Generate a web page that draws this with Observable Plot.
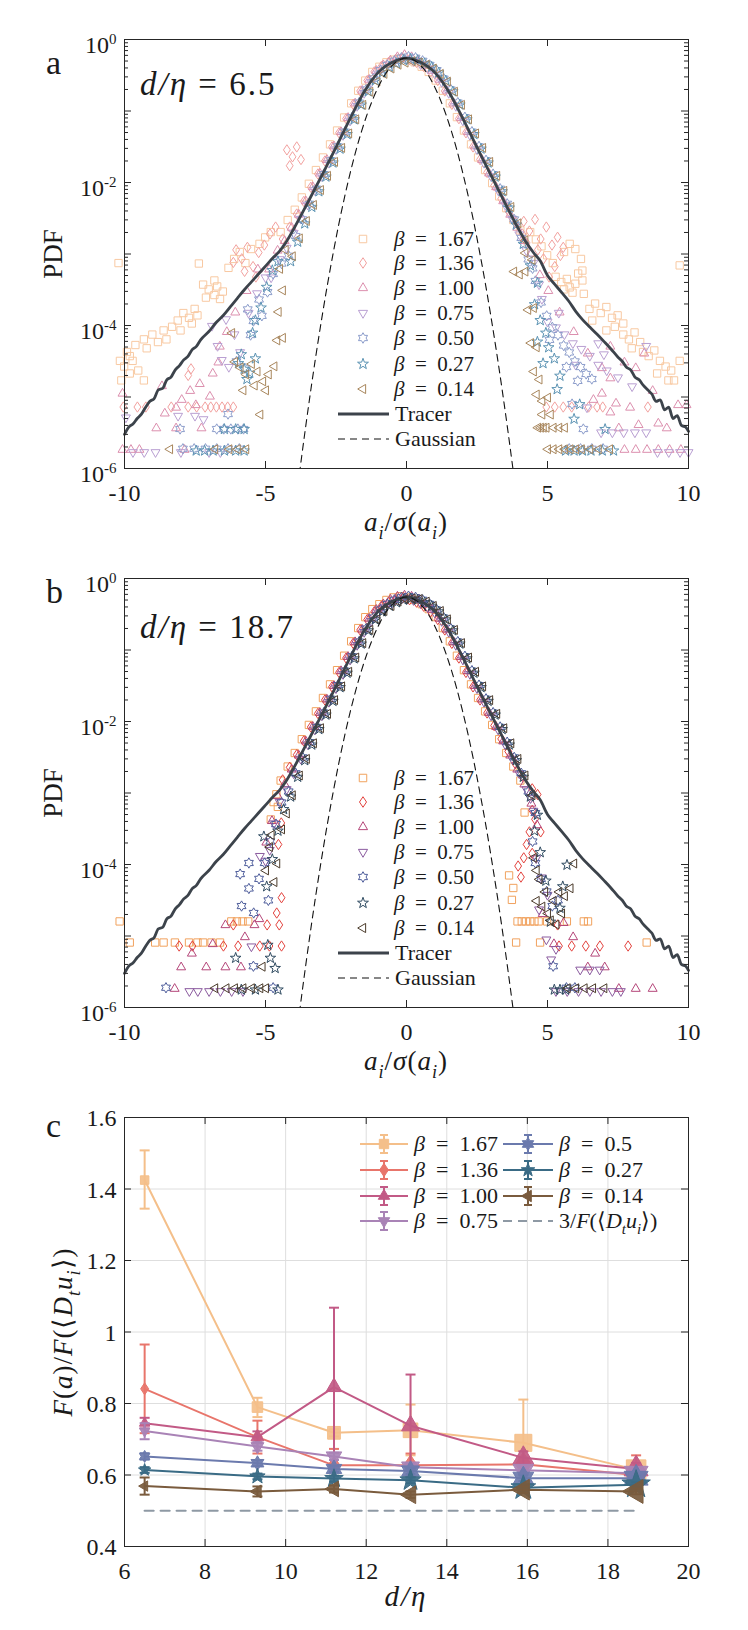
<!DOCTYPE html>
<html><head><meta charset="utf-8">
<script src="https://cdn.jsdelivr.net/npm/d3@7"></script>
<script src="https://cdn.jsdelivr.net/npm/@observablehq/plot@0.6"></script>
<style>
html,body{margin:0;padding:0;background:#fff;}
#fig{position:relative;width:748px;height:1630px;overflow:hidden;font-family:"Liberation Serif","Times New Roman",Times,serif;}
.pane{position:absolute;left:0;}
#fig svg text{font-family:"Liberation Serif","Times New Roman",Times,serif;}
</style></head><body><div id="fig"></div>
<script>
// ---------------- DATA ----------------
const betaLabels = ["1.67","1.36","1.00","0.75","0.50","0.27","0.14"];
const xTicksPDF = [-10,-5,0,5,10];
const yLabelDecades = [1,1e-2,1e-4,1e-6];

// tracer PDF (same curve in both panels)
const tracerX = [-10,-9.85,-9.7,-9.55,-9.4,-9.25,-9.1,-8.95,-8.8,-8.65,-8.5,-8.35,-8.2,-8.05,-7.9,-7.75,-7.6,-7.45,-7.3,-7,-6.75,-6.5,-6.25,-6,-5.75,-5.5,-5.25,-5,-4.75,-4.5,-4.25,-4,-3.5,-3,-2.5,-2,-1.5,-1,-0.5,0,0.5,1,1.5,2,2.5,3,3.5,4,4.25,4.5,4.75,5,5.25,5.5,5.75,6,6.25,6.5,6.75,7,7.25,7.5,7.65,7.8,7.95,8.1,8.25,8.4,8.55,8.7,8.85,9,9.15,9.3,9.45,9.6,9.75,9.9,10];
const tracerY = [3.0e-6,3.8e-6,4.2e-6,5.0e-6,5.75e-6,7.2e-6,8.7e-6,9.5e-6,1.26e-5,1.32e-5,1.74e-5,1.9e-5,2.4e-5,2.75e-5,3.3e-5,3.7e-5,4.6e-5,5.1e-5,6.3e-5,8.3e-5,1.1e-4,1.38e-4,1.82e-4,2.4e-4,3.16e-4,4.07e-4,5.25e-4,6.76e-4,8.7e-4,1.1e-3,1.51e-3,2.24e-3,5.25e-3,1.26e-2,3.1e-2,7.8e-2,0.186,0.347,0.479,0.55,0.479,0.347,0.186,7.8e-2,3.1e-2,1.26e-2,5.1e-3,2.14e-3,1.45e-3,1.05e-3,7.9e-4,5.0e-4,3.8e-4,2.9e-4,2.2e-4,1.58e-4,1.2e-4,9.5e-5,7.6e-5,6.0e-5,4.7e-5,3.6e-5,3.16e-5,2.6e-5,2.4e-5,1.9e-5,1.74e-5,1.45e-5,1.26e-5,1.1e-5,8.7e-6,9.1e-6,6.6e-6,7.2e-6,5.0e-6,5.5e-6,4.0e-6,3.8e-6,3.3e-6];

// Gaussian reference curve
const gaussX = [-3.8,-3.6,-3.4,-3.2,-3,-2.8,-2.6,-2.4,-2.2,-2,-1.8,-1.6,-1.4,-1.2,-1,-0.8,-0.6,-0.4,-0.2,0,0.2,0.4,0.6,0.8,1,1.2,1.4,1.6,1.8,2,2.2,2.4,2.6,2.8,3,3.2,3.4,3.6,3.8];
const gaussY = [8.3e-7,3.27e-6,1.2e-5,4.09e-5,1.29e-4,3.8e-4,1.03e-3,2.62e-3,6.15e-3,1.34e-2,2.72e-2,5.1e-2,8.91e-2,0.144,0.217,0.304,0.394,0.474,0.53,0.55,0.53,0.474,0.394,0.304,0.217,0.144,8.91e-2,5.1e-2,2.72e-2,1.34e-2,6.15e-3,2.62e-3,1.03e-3,3.8e-4,1.29e-4,4.09e-5,1.2e-5,3.27e-6,8.3e-7];

// bins of the central part of the particle PDFs
const coreX = [-4.25,-4,-3.75,-3.5,-3.25,-3,-2.75,-2.5,-2.25,-2,-1.75,-1.5,-1.25,-1,-0.75,-0.5,-0.25,0,0.25,0.5,0.75,1,1.25,1.5,1.75,2,2.25,2.5,2.75,3,3.25,3.5,3.75,4,4.25];

// ---- panel a (d/eta = 6.5): central part ----
const a167c = [1.9e-3,2.8e-3,3.9e-3,5.8e-3,9.0e-3,1.4e-2,2.1e-2,3.2e-2,5.0e-2,7.6e-2,0.12,0.18,0.25,0.33,0.39,0.45,0.49,0.51,0.49,0.45,0.39,0.33,0.25,0.18,0.12,7.7e-2,5.0e-2,3.2e-2,2.1e-2,1.4e-2,9.2e-3,6.0e-3,4.1e-3,2.8e-3,2.0e-3];
const a136c = [1.7e-3,2.5e-3,3.8e-3,5.7e-3,9.0e-3,1.38e-2,2.1e-2,3.3e-2,5.2e-2,8.2e-2,0.13,0.2,0.28,0.37,0.44,0.5,0.55,0.58,0.55,0.5,0.44,0.37,0.28,0.2,0.13,8.2e-2,5.2e-2,3.3e-2,2.2e-2,1.45e-2,9.5e-3,6.2e-3,4.2e-3,2.9e-3,2.0e-3];
const a100c = [1.5e-3,2.3e-3,3.5e-3,5.4e-3,8.5e-3,1.32e-2,2.04e-2,3.16e-2,5.0e-2,7.9e-2,0.126,0.19,0.27,0.36,0.43,0.5,0.56,0.6,0.56,0.5,0.43,0.36,0.27,0.19,0.126,7.9e-2,5.0e-2,3.16e-2,2.04e-2,1.32e-2,8.5e-3,5.4e-3,3.5e-3,2.3e-3,1.5e-3];
const a075c = [1.3e-3,2.1e-3,3.3e-3,5.2e-3,8.3e-3,1.3e-2,2.0e-2,3.1e-2,4.9e-2,7.8e-2,0.125,0.19,0.27,0.355,0.42,0.48,0.53,0.56,0.53,0.48,0.42,0.355,0.27,0.19,0.125,7.8e-2,4.9e-2,3.1e-2,2.0e-2,1.3e-2,8.3e-3,5.2e-3,3.3e-3,2.0e-3,1.2e-3];
const a050c = [9e-4,1.7e-3,2.9e-3,4.8e-3,7.8e-3,1.25e-2,1.95e-2,3.05e-2,4.9e-2,7.8e-2,0.125,0.19,0.27,0.355,0.42,0.48,0.53,0.55,0.53,0.48,0.42,0.355,0.27,0.19,0.125,7.8e-2,4.9e-2,3.05e-2,1.95e-2,1.25e-2,7.8e-3,4.8e-3,2.9e-3,1.6e-3,8e-4];
const a027c = [8e-4,1.5e-3,2.7e-3,4.6e-3,7.6e-3,1.22e-2,1.92e-2,3.0e-2,4.8e-2,7.7e-2,0.124,0.19,0.27,0.35,0.42,0.47,0.52,0.54,0.52,0.47,0.42,0.35,0.27,0.19,0.124,7.7e-2,4.8e-2,3.0e-2,1.92e-2,1.22e-2,7.6e-3,4.5e-3,2.6e-3,1.4e-3,7e-4];
const a014c = [9e-4,1.6e-3,2.8e-3,4.7e-3,7.6e-3,1.2e-2,1.88e-2,2.95e-2,4.7e-2,7.4e-2,0.118,0.18,0.25,0.32,0.38,0.43,0.46,0.48,0.46,0.43,0.38,0.32,0.25,0.18,0.118,7.4e-2,4.7e-2,2.95e-2,1.88e-2,1.2e-2,7.4e-3,4.4e-3,2.6e-3,1.5e-3,8e-4];

// ---- panel a: tails ----
const a167 = [[-10,7e-4],[-7.15,6.9e-4],[-7.0,3.5e-4],[-6.8,3e-4],[-6.6,2.5e-4],[-6.5,3.3e-4],[-6.4,2.2e-4],[-6.3,2.8e-4],[-6.9,2.3e-4],[-6.6,4e-4],
 [-8.1,9e-5],[-7.9,1.1e-4],[-7.7,1.4e-4],[-7.5,1.2e-4],[-7.3,1.6e-4],[-7.2,1.3e-4],[-7.8,8e-5],[-7.4,1e-4],
 [-9.7,4e-5],[-9.4,5e-5],[-9.1,6e-5],[-8.8,7e-5],[-8.6,5.5e-5],[-8.4,8e-5],[-9.0,4.5e-5],[-8.3,6e-5],[-9.6,3.5e-5],
 [-9.95,3e-5],[-9.8,2.5e-5],[-9.6,2e-5],[-9.3,2.2e-5],[-9.1,1.6e-5],[-9.9,1.6e-5],[-9.5,3e-5],
 [-6.1,6e-4],[-5.9,8e-4],[-5.7,1e-3],[-5.5,7e-4],[-5.3,1.1e-3],[-5.0,1.3e-3],[-4.8,1.6e-3],[-4.6,1.9e-3],
 [4.6,1.9e-3],[4.8,1.5e-3],[5.0,1.2e-3],[5.2,9e-4],[5.4,7e-4],[5.5,4.5e-4],[5.7,3.8e-4],[5.9,4.2e-4],[6.0,3.2e-4],[6.2,3.6e-4],[6.3,5e-4],[6.45,5.5e-4],[6.45,4e-4],[6.5,2.6e-4],[5.8,3e-4],[6.1,2.7e-4],
 [6.0,1.3e-3],[6.2,1.1e-3],[6.4,8e-4],[5.8,1e-3],
 [6.7,1.6e-4],[6.9,1.9e-4],[7.1,1.4e-4],[7.3,1.7e-4],[7.5,1.2e-4],[7.7,1.3e-4],[7.9,1e-4],[6.8,1.1e-4],
 [7.3,8e-5],[7.6,9e-5],[7.9,7e-5],[8.1,6e-5],[8.3,7.5e-5],[8.5,5.5e-5],[8.2,4.5e-5],
 [8.6,4e-5],[8.8,3.5e-5],[9.0,4.2e-5],[9.2,3e-5],[9.4,2.5e-5],[9.6,2.2e-5],[9.7,1.6e-5],[9.1,2e-5],[9.5,1.6e-5],[9.9,3e-5],[9.9,6.5e-4]];
const a136 = [[-4.1,3e-2],[-3.9,2.4e-2],[-3.75,3.3e-2],[-3.6,2.2e-2],[-4.0,1.8e-2],
 [-5.9,1.2e-3],[-5.7,9e-4],[-5.5,1.3e-3],[-5.3,7e-4],[-5.1,1.1e-3],[-4.9,1.4e-3],[-5.6,6e-4],[-5.2,5e-4],[-6.0,8e-4],[-4.7,2e-3],[-4.5,2.5e-3],
 [-7.6,2.1e-5],[-7.5,2.6e-5],
 [-9.9,7.6e-6],[-9.4,7.6e-6],[-9.1,7.6e-6],[-8.2,7.6e-6],[-7.6,7.6e-6],[-7.3,7.6e-6],[-7.0,7.6e-6],[-6.8,7.6e-6],[-6.6,7.6e-6],[-6.4,7.6e-6],[-6.2,7.6e-6],[-6.0,7.6e-6],
 [4.3,3e-3],[4.5,2.2e-3],[4.7,3.2e-3],[4.9,1.7e-3],[5.1,2.5e-3],[4.8,1.2e-3],[5.0,9e-4],[5.3,1.4e-3],[5.5,1.8e-3],[5.6,1e-3],[5.4,7e-4],[5.7,1.3e-3],[4.4,1.5e-3],[5.2,5e-4],
 [5.1,7.6e-6],[5.4,7.6e-6],[5.7,7.6e-6],[6.0,7.6e-6],[6.6,7.6e-6],[6.9,7.6e-6],[7.1,7.6e-6],[8.7,7.6e-6]];
const a100 = [[-10,1.1e-5],[-8.5,5.8e-6],[-8.1,7e-6],[-7.6,1.2e-5],[-7.26,1.5e-5],[-6.8,2.1e-5],[-6.9,1e-5],[-8.8,3.6e-6],[-8.1,3.6e-6],[-7.2,3.6e-6],[-10,1.8e-6],[-9.7,1.8e-6],[-9.4,1.8e-6],[-7.8,1.8e-6],[-6.55,5e-5],[-7.4,7.6e-6],[-6.6,3e-5],[-6.3,8e-5],[-8.6,1.4e-5],[-7.9,9e-6],[-6.0,1.5e-4],[-5.6,3e-4],[-5.2,6e-4],[-4.5,1.1e-3],[-4.8,6e-4],
 [6.7,9e-6],[7.0,1.1e-5],[7.3,6e-6],[7.5,8e-6],[7.0,2.5e-5],[7.3,1.8e-5],[7.3,5e-5],[8.0,7e-6],[8.3,4e-6],[9.0,4.2e-6],[9.7,7.6e-6],[7.8,1.8e-6],[8.2,1.8e-6],[8.6,1.8e-6],[9.0,1.8e-6],[9.4,1.8e-6],[9.8,1.8e-6],[10,7.6e-6],[7.8,3e-5],[8.2,2.5e-5],[8.5,4e-5],[6.5,4e-5],[6.0,8e-5],[5.5,1.5e-4],[5.1,3e-4],[8.8,1.2e-5],[9.3,3.6e-6],[7.6,3.6e-6],[4.5,1e-3],[4.8,5e-4]];
const a075 = [[-9.95,5.5e-6],[-6.9,1.05e-4],[-6.7,5.5e-5],[-6.55,3.5e-5],[-6.1,8e-5],[-5.9,4.5e-5],[-6.3,2.8e-5],[-8.1,5.8e-6],[-7.5,5.8e-6],[-7.2,5.2e-6],[-9.7,1.8e-6],[-9.3,1.8e-6],[-8.9,1.8e-6],[-8.0,1.8e-6],[-7.0,1.8e-6],[-6.6,1.8e-6],[-5.6,1.6e-4],[-5.3,3e-4],[-5.0,5e-4],[-6.4,1.3e-4],[-4.5,9e-4],[-4.8,5e-4],
 [5.0,1.2e-4],[5.3,1e-4],[5.6,8e-5],[5.9,6e-5],[6.2,5e-5],[6.5,4e-5],[6.8,3e-5],[7.1,2.5e-5],[7.0,4.2e-5],[6.8,6e-5],[8.5,5.5e-5],[6.9,3.4e-6],[7.3,3.4e-6],[7.7,3.4e-6],[8.1,3.4e-6],[8.5,3.4e-6],[8.9,1.8e-6],[9.3,1.8e-6],[9.7,1.8e-6],[10,1.8e-6],[4.8,2.5e-4],[5.4,1.6e-4],[6.0,3e-5],[7.5,2e-5],[8.0,1.5e-5],[6.4,7.6e-6],[4.5,8e-4],[4.7,4e-4]];
const a050 = [[-5.7,1.6e-4],[-5.5,1.1e-4],[-5.3,2.2e-4],[-5.6,7e-5],[-5.2,1.3e-4],[-5.0,2.8e-4],[-4.8,5e-4],[-6.8,3.4e-6],[-6.55,3.4e-6],[-6.3,3.4e-6],[-6.05,3.4e-6],[-5.85,3.4e-6],[-8.1,3.4e-6],[-6.4,5.5e-6],[-8.0,1.8e-6],[-7.6,1.8e-6],[-7.2,1.8e-6],[-6.8,1.8e-6],[-6.4,1.8e-6],[-6.0,1.8e-6],[-6.1,3e-5],[-5.8,2.4e-5],[-4.5,7e-4],
 [4.7,2e-4],[4.9,1.3e-4],[5.1,9e-5],[5.3,7e-5],[5.5,5e-5],[5.7,4e-5],[5.9,3e-5],[6.1,2.5e-5],[6.3,2e-5],[6.5,1.7e-5],[5.0,6e-5],[5.6,2.5e-5],[6.0,1.6e-5],[5.8,7.6e-6],[5.7,1.8e-6],[6.1,1.8e-6],[6.5,1.8e-6],[6.9,1.8e-6],[4.5,4e-4],[6.2,3.4e-6],[4.4,6e-4]];
const a027 = [[-5.1,3.5e-4],[-4.9,6e-4],[-5.3,1.8e-4],[-5.5,1.2e-4],[-5.6,8e-5],[-6.1,3e-5],[-5.9,2.5e-5],[-5.7,2.2e-5],[-5.5,3.5e-5],[-6.0,4e-5],[-5.8,1.8e-5],[-6.2,3.6e-6],[-6.6,3.6e-6],[-5.9,3.6e-6],[-7.6,1.8e-6],[-7.3,1.8e-6],[-7.0,1.8e-6],[-6.6,1.8e-6],[-6.2,1.8e-6],[-5.9,1.8e-6],[-4.7,8e-4],
 [4.4,2e-4],[4.6,1.2e-4],[4.8,8e-5],[4.9,5e-5],[5.1,3.5e-5],[4.5,6e-5],[4.7,3e-5],[5.2,1.3e-5],[6.0,8e-6],[5.8,5e-6],[6.9,3.6e-6],[5.5,1.8e-6],[5.8,1.8e-6],[6.1,1.8e-6],[6.4,1.8e-6],[6.8,1.8e-6],[7.2,1.8e-6],[5.3,2e-5],[4.5,4e-4]];
const a014 = [[-6.4,7.6e-5],[-4.8,6e-5],[-4.6,6.5e-5],[-6.3,3e-5],[-6.1,2.5e-5],[-5.9,2e-5],[-5.7,2.8e-5],[-5.5,2.2e-5],[-5.3,1.6e-5],[-5.1,2e-5],[-4.9,2.6e-5],[-5.6,1.4e-5],[-5.2,1.2e-5],[-5.4,5.5e-6],[-8.6,1.8e-6],[-7.0,1.8e-6],[-6.5,1.8e-6],[-6.2,1.8e-6],[-5.9,1.8e-6],[-4.5,1.1e-3],[-4.7,6e-4],[-4.6,3e-4],[-4.75,1.5e-4],[-6.0,1.2e-5],
 [3.6,5.5e-4],[3.8,5e-4],[4.0,5.5e-4],[4.1,1.6e-4],[4.3,1.7e-4],[4.2,5.5e-5],[4.4,4.8e-5],[4.3,2.2e-5],[4.5,1.7e-5],[4.4,1.05e-5],[4.6,8.5e-6],[4.8,9.5e-6],[4.6,5.5e-6],[4.9,5.5e-6],[4.45,3.6e-6],[4.55,3.6e-6],[4.65,3.6e-6],[4.75,3.6e-6],[5.0,3.6e-6],[5.2,3.6e-6],[5.4,3.6e-6],[4.8,1.8e-6],[5.0,1.8e-6],[5.2,1.8e-6],[5.4,1.8e-6],[5.6,1.8e-6],[5.8,1.8e-6],[6.0,1.8e-6],[6.3,1.8e-6],[6.6,1.8e-6],[7.0,1.8e-6],[4.0,1e-3]];

// ---- panel b (d/eta = 18.7): central part ----
const b167c = [1.4e-3,2.2e-3,3.4e-3,5.3e-3,8.4e-3,1.3e-2,2.0e-2,3.1e-2,4.9e-2,7.8e-2,0.124,0.19,0.27,0.35,0.41,0.47,0.51,0.53,0.51,0.47,0.41,0.35,0.27,0.19,0.124,7.8e-2,4.9e-2,3.1e-2,2.0e-2,1.3e-2,8.4e-3,5.3e-3,3.4e-3,2.2e-3,1.4e-3];
const b136c = [1.6e-3,2.4e-3,3.6e-3,5.6e-3,8.8e-3,1.36e-2,2.1e-2,3.2e-2,5.1e-2,8.1e-2,0.13,0.2,0.28,0.36,0.43,0.49,0.53,0.56,0.53,0.49,0.43,0.36,0.28,0.2,0.13,8.1e-2,5.1e-2,3.2e-2,2.1e-2,1.38e-2,9.2e-3,6.0e-3,4.0e-3,2.7e-3,1.8e-3];
const b100c = [1.3e-3,2.1e-3,3.3e-3,5.2e-3,8.3e-3,1.3e-2,2.0e-2,3.1e-2,5.0e-2,7.9e-2,0.127,0.19,0.27,0.36,0.43,0.5,0.55,0.57,0.55,0.5,0.43,0.36,0.27,0.19,0.127,7.9e-2,5.0e-2,3.1e-2,2.0e-2,1.3e-2,8.3e-3,5.2e-3,3.3e-3,2.1e-3,1.3e-3];
const b075c = [1.2e-3,2.0e-3,3.2e-3,5.1e-3,8.2e-3,1.29e-2,2.0e-2,3.1e-2,4.9e-2,7.8e-2,0.125,0.19,0.27,0.355,0.42,0.48,0.53,0.55,0.53,0.48,0.42,0.355,0.27,0.19,0.125,7.8e-2,4.9e-2,3.1e-2,2.0e-2,1.29e-2,8.2e-3,5.1e-3,3.2e-3,2.0e-3,1.2e-3];
const b050c = [1.0e-3,1.8e-3,3.0e-3,4.9e-3,8.0e-3,1.27e-2,1.98e-2,3.08e-2,4.9e-2,7.8e-2,0.125,0.19,0.27,0.35,0.42,0.48,0.52,0.54,0.52,0.48,0.42,0.35,0.27,0.19,0.125,7.8e-2,4.9e-2,3.08e-2,1.98e-2,1.27e-2,8.0e-3,4.9e-3,3.0e-3,1.8e-3,1.0e-3];
const b027c = [9e-4,1.7e-3,2.9e-3,4.8e-3,7.9e-3,1.26e-2,1.96e-2,3.05e-2,4.85e-2,7.7e-2,0.124,0.19,0.27,0.35,0.42,0.47,0.51,0.53,0.51,0.47,0.42,0.35,0.27,0.19,0.124,7.7e-2,4.85e-2,3.05e-2,1.96e-2,1.26e-2,7.9e-3,4.8e-3,2.9e-3,1.7e-3,9e-4];
const b014c = [9e-4,1.7e-3,2.9e-3,4.8e-3,7.8e-3,1.24e-2,1.93e-2,3.0e-2,4.8e-2,7.6e-2,0.121,0.185,0.26,0.34,0.4,0.46,0.5,0.51,0.5,0.46,0.4,0.34,0.26,0.185,0.121,7.6e-2,4.8e-2,3.0e-2,1.93e-2,1.24e-2,7.8e-3,4.8e-3,2.9e-3,1.7e-3,9e-4];

// ---- panel b: tails ----
const b167 = [[-9.96,1.5e-5],[-9.6,7.6e-6],[-8.7,7.6e-6],[-8.4,7.6e-6],[-8.0,7.6e-6],[-7.5,7.6e-6],[-7.2,7.6e-6],[-7.0,7.6e-6],[-6.7,7.6e-6],[-6.4,7.6e-6],[-6.0,1.5e-5],[-5.8,1.5e-5],[-5.6,1.5e-5],[-5.4,1.5e-5],[-4.5,7e-4],[-4.35,6e-4],[-4.6,4e-4],[-4.4,9e-4],
 [3.85,6.6e-5],[4.0,4.4e-5],[3.95,3e-5],[4.15,1.5e-5],[4.3,1.5e-5],[4.45,1.5e-5],[4.6,1.5e-5],[4.75,1.5e-5],[4.9,1.5e-5],[5.2,1.5e-5],[5.9,1.5e-5],[6.5,1.5e-5],[6.65,1.5e-5],[4.1,7.6e-6],[4.95,7.6e-6],[8.73,7.6e-6],[4.4,5e-4]];
const b136 = [[-7.92,7.6e-6],[-7.45,7.6e-6],[-6.35,7.6e-6],[-5.83,7.6e-6],[-5.06,7.6e-6],[-4.72,7.6e-6],[-4.29,7.6e-6],[-6.0,1.5e-5],[-4.8,1.5e-5],[-4.37,1.5e-5],[-4.29,3.6e-5],[-4.46,2.2e-5],[-4.4,2e-4],[-4.3,4e-4],
 [4.79,1e-3],[4.6,6e-4],[4.7,4.5e-4],[4.5,3e-4],[4.4,2e-4],[4.3,1.3e-4],[4.1,1e-4],[4.2,7e-5],[4.6,1.5e-4],[5.55,7.6e-6],[6.0,7.6e-6],[6.5,7.6e-6],[7.0,7.6e-6],[8.0,7.6e-6],[5.5,1.5e-5],[4.9,3e-4],[4.6,1.2e-3]];
const b100 = [[-6.35,1.4e-5],[-7.54,5.6e-6],[-7.92,3.6e-6],[-7.03,3.6e-6],[-6.35,3.6e-6],[-5.66,9.5e-6],[-5.32,1.4e-5],[-8.15,1.8e-6],[-5.15,1.7e-5],[-5.8,3.6e-6],[-6.8,7.6e-6],[-4.5,9e-4],[-4.7,4e-4],[-4.9,2e-4],
 [6.76,5.6e-6],[7.1,3.6e-6],[5.98,9.5e-6],[5.64,1.5e-5],[8.2,1.8e-6],[8.8,1.8e-6],[7.6,1.8e-6],[5.3,7.6e-6],[4.9,2e-5],[6.5,3.6e-6],[4.5,7e-4],[4.7,3.5e-4]];
const b075 = [[-7.7,1.8e-6],[-7.4,1.8e-6],[-7.0,1.8e-6],[-6.6,1.8e-6],[-6.2,1.8e-6],[-5.8,1.8e-6],[-5.5,7.6e-6],[-5.2,1.4e-4],[-5.0,1.2e-4],[-4.85,1.7e-4],[-4.5,8e-4],[-4.7,4e-4],
 [4.96,9.5e-6],[5.3,7e-6],[5.13,5e-6],[6.16,3.6e-6],[6.5,3.6e-6],[6.85,3.6e-6],[5.3,1.8e-6],[5.7,1.8e-6],[6.1,1.8e-6],[6.5,1.8e-6],[6.9,1.8e-6],[7.3,1.8e-6],[7.6,1.8e-6],[4.6,1.3e-4],[4.8,7e-5],[5.0,4e-5],[4.7,2.5e-5],[4.5,6e-4],[4.4,9e-4]];
const b050 = [[-5.97,7e-5],[-5.66,4.4e-5],[-5.92,2.5e-5],[-5.49,2e-5],[-4.97,3e-5],[-5.3,6e-5],[-5.66,1e-4],[-8.6,1.8e-6],[-4.8,1.8e-6],[-5.5,3.6e-6],[-5.1,1e-4],[-4.9,2e-4],[-4.5,7e-4],[-4.7,3.5e-4],
 [5.13,3.6e-6],[4.5,1e-4],[4.7,6e-5],[4.9,4e-5],[5.1,2.5e-5],[5.3,3e-5],[4.4,2e-4],[5.6,1.8e-6],[5.9,1.8e-6],[4.5,5e-4]];
const b027 = [[-5.06,7.6e-6],[-4.97,5e-6],[-4.8,3.6e-6],[-4.7,1.8e-6],[-6.2,5e-6],[-6.0,1.8e-6],[-5.5,1.8e-6],[-5.2,2.5e-4],[-4.9,1.2e-4],[-5.1,5e-5],[-4.5,6e-4],[-4.7,3e-4],
 [5.55,1e-4],[5.3,2.5e-5],[4.96,1.6e-5],[5.1,1.8e-6],[5.3,1.8e-6],[5.5,1.8e-6],[4.6,1.5e-4],[4.8,6e-5],[5.4,5e-5],[4.5,5e-4],[4.4,3e-4]];
const b014 = [[-5.06,1.7e-4],[-4.8,1e-4],[-4.9,5.5e-5],[-4.63,3e-4],[-4.46,5e-4],[-5.32,3.6e-6],[-7.0,1.8e-6],[-6.6,1.8e-6],[-6.3,1.8e-6],[-6.0,1.8e-6],[-5.7,1.8e-6],[-5.4,1.8e-6],[-5.2,1.8e-6],[-5.0,2.5e-4],[-5.2,8e-5],
 [5.73,1e-4],[4.4,3e-5],[4.6,2.5e-5],[4.8,2e-5],[5.0,3e-5],[5.2,4e-5],[5.4,3.5e-5],[5.6,4.5e-5],[4.9,1.6e-5],[5.1,1.4e-5],[5.3,2e-5],[4.5,6e-5],[4.7,4e-5],[5.5,1.8e-6],[5.8,1.8e-6],[6.1,1.8e-6],[6.4,1.8e-6],[6.8,1.8e-6],[4.3,1.2e-4],[4.4,8e-5]];

// ---- panel c ----
const dEta = [6.5, 9.3, 11.2, 13.1, 15.9, 18.7];
const cLabels = ["1.67","1.36","1.00","0.75","0.5","0.27","0.14"];
const c167 = [1.425,0.790,0.718,0.725,0.690,0.615], c167lo = [1.345,0.762,0.708,0.655,0.570,0.608], c167hi = [1.508,0.816,0.728,0.797,0.811,0.622];
const c136 = [0.841,0.706,0.627,0.627,0.630,0.600], c136lo = [0.717,0.660,0.580,0.595,0.612,0.590], c136hi = [0.965,0.752,0.673,0.660,0.648,0.655];
const c100 = [0.745,0.706,0.846,0.738,0.648,0.617], c100lo = [0.730,0.690,0.625,0.595,0.630,0.600], c100hi = [0.760,0.722,1.068,0.881,0.666,0.634];
const c075 = [0.723,0.680,0.652,0.622,0.613,0.605], c075lo = [0.700,0.668,0.642,0.612,0.603,0.597], c075hi = [0.745,0.692,0.662,0.632,0.623,0.613];
const c050 = [0.652,0.633,0.617,0.611,0.591,0.591], c050lo = [0.643,0.625,0.609,0.603,0.583,0.584], c050hi = [0.661,0.641,0.625,0.619,0.599,0.598];
const c027 = [0.614,0.596,0.590,0.585,0.564,0.573], c027lo = [0.606,0.588,0.582,0.577,0.556,0.566], c027hi = [0.622,0.604,0.598,0.593,0.572,0.580];
const c014 = [0.569,0.554,0.561,0.545,0.559,0.554], c014lo = [0.545,0.540,0.551,0.536,0.550,0.546], c014hi = [0.593,0.568,0.571,0.554,0.568,0.562];
const theoryX = [6.5, 18.7], theoryY = [0.5, 0.5];
const cXTicks = [6,8,10,12,14,16,18,20];
const cYTicks = [0.4,0.6,0.8,1,1.2,1.4,1.6];

// ---------------- STYLE ----------------
const FONT = '"Liberation Serif","Times New Roman",Times,serif';
const NS = "http://www.w3.org/2000/svg";
const kinds = ["square","diamond","up","down","hexagram","pentagram","left"];
const colA = ["#f8c9a2","#f2a19f","#dc8fae","#b99fd2","#8c9dcb","#5b93b3","#a8865c"];
const colB = ["#f1a25e","#e3433e","#b5477a","#8b5b9f","#4e5d9b","#2f4b61","#4b3b2b"];
const colC = ["#f4bf8a","#e8756b","#c25a86","#a983b6","#6b7aad","#3a6b85","#7a5b3d"];
const cR = [5.0, 6.2, 7.5, 8.6, 10.0, 11.5];
const jitterY = [-2, 1.5, -0.5, 2, -1.5, 0.5, -1];

function sym(kind){
  return {draw(ctx, size){
    const r = Math.sqrt(size/Math.PI);
    const poly = pts => { ctx.moveTo(pts[0][0], pts[0][1]); for (let i=1;i<pts.length;i++) ctx.lineTo(pts[i][0], pts[i][1]); ctx.closePath(); };
    const ang = (n, step, off, f) => d3.range(n).map(i => { const t=(i*step+off)*Math.PI/180, s=f(i); return [s*Math.cos(t), s*Math.sin(t)]; });
    if (kind==="square"){ const h=0.85*r; poly([[-h,-h],[h,-h],[h,h],[-h,h]]); }
    else if (kind==="diamond"){ poly([[0,-1.2*r],[0.8*r,0],[0,1.2*r],[-0.8*r,0]]); }
    else if (kind==="up"){ poly(ang(3,120,-90,()=>1.2*r)); }
    else if (kind==="down"){ poly(ang(3,120,90,()=>1.2*r)); }
    else if (kind==="left"){ poly(ang(3,120,180,()=>1.2*r)); }
    else if (kind==="hexagram"){ const R=1.2*r; poly(ang(12,30,-90,i=>i%2?R/Math.sqrt(3):R)); }
    else if (kind==="pentagram"){ const R=1.3*r; poly(ang(10,36,-90,i=>i%2?R*0.4:R)); }
    else if (kind==="hbar"){ ctx.moveTo(-r,0); ctx.lineTo(r,0); }
  }};
}

function supLabels(svg){
  svg.querySelectorAll("text").forEach(t=>{
    const m = t.textContent.match(/^10\^(.+)$/);
    if(!m) return;
    t.textContent = "";
    const a = document.createElementNS(NS,"tspan"); a.textContent = "10";
    const b = document.createElementNS(NS,"tspan"); b.textContent = m[1];
    b.setAttribute("dy","-9"); b.setAttribute("font-size","15");
    t.appendChild(a); t.appendChild(b);
  });
}

const W = 748, H = 510, MT = 39, MB = 42, ML = 124, MR = 60;
const innerW = W-ML-MR, innerH = H-MT-MB;
const axisCol = "#262626";

function pdfPanel(cores, tails, cols){
  const marks = [];
  cores.forEach((core,k)=>{
    const data = coreX.map((x,i)=>[x, core[i]]).concat(tails[k]);
    marks.push(Plot.dot(data, {x:d=>d[0], y:d=>d[1], symbol: sym(kinds[k]), r:4.3, stroke: cols[k], strokeWidth:1, fill:"none", dx:(k-3)*2, dy:jitterY[k]}));
  });
  marks.push(Plot.line(tracerX.map((x,i)=>[x, tracerY[i]]), {x:d=>d[0], y:d=>d[1], stroke:"#3c434b", strokeWidth:2.8, curve:"monotone-x"}));
  marks.push(Plot.line(gaussX.map((x,i)=>[x, gaussY[i]]), {x:d=>d[0], y:d=>d[1], stroke:"#111", strokeWidth:1.1, strokeDasharray:"7,5", curve:"monotone-x", clip:true}));
  const decades = d3.range(-6,1).map(e=>Math.pow(10,e));
  const minors = d3.range(-6,0).flatMap(e=>d3.range(2,10).map(m=>m*Math.pow(10,e)));
  marks.push(Plot.ruleX(xTicksPDF, {x:d=>d, insetTop: innerH-7, stroke: axisCol}));
  marks.push(Plot.ruleX(xTicksPDF, {x:d=>d, insetBottom: innerH-7, stroke: axisCol}));
  marks.push(Plot.ruleY(decades, {y:d=>d, insetRight: innerW-7, stroke: axisCol}));
  marks.push(Plot.ruleY(decades, {y:d=>d, insetLeft: innerW-7, stroke: axisCol}));
  marks.push(Plot.ruleY(minors, {y:d=>d, insetRight: innerW-4, stroke: axisCol}));
  marks.push(Plot.ruleY(minors, {y:d=>d, insetLeft: innerW-4, stroke: axisCol}));
  marks.push(Plot.frame({stroke: axisCol, strokeWidth:1}));
  marks.push(Plot.text(xTicksPDF, {x:d=>d, y:1e-6, dy:25, text:d=>String(d), fontSize:24, fontFamily:FONT, fill:"#1a1a1a"}));
  marks.push(Plot.text(yLabelDecades, {x:-10, y:d=>d, dx:-8, dy:6, textAnchor:"end", text:d=>"10^"+Math.round(Math.log10(d)), fontSize:24, fontFamily:FONT, fill:"#1a1a1a"}));
  const svg = Plot.plot({width:W, height:H, marginTop:MT, marginBottom:MB, marginLeft:ML, marginRight:MR,
    x:{domain:[-10,10], axis:null}, y:{type:"log", domain:[1e-6,1], axis:null},
    style:{fontFamily:FONT, background:"transparent", overflow:"visible"}, marks});
  supLabels(svg);
  return svg;
}

function ratioPanel(){
  const series = [[c167,c167lo,c167hi],[c136,c136lo,c136hi],[c100,c100lo,c100hi],[c075,c075lo,c075hi],[c050,c050lo,c050hi],[c027,c027lo,c027hi],[c014,c014lo,c014hi]];
  const marks = [
    Plot.ruleX(cXTicks, {x:d=>d, stroke:"#dedede"}),
    Plot.ruleY(cYTicks, {y:d=>d, stroke:"#dedede"}),
    Plot.line(theoryX.map((x,i)=>[x, theoryY[i]]), {x:d=>d[0], y:d=>d[1], stroke:"#8e99a4", strokeWidth:2.2, strokeDasharray:"9,7"})
  ];
  series.forEach(([v,lo,hi],k)=>{
    const rows = dEta.map((x,i)=>({x, v:v[i], lo:lo[i], hi:hi[i], i}));
    marks.push(Plot.line(rows, {x:"x", y:"v", stroke:colC[k], strokeWidth:2}));
    marks.push(Plot.ruleX(rows, {x:"x", y1:"lo", y2:"hi", stroke:colC[k], strokeWidth:2}));
    marks.push(Plot.dot(rows, {x:"x", y:"lo", symbol:sym("hbar"), r:5, stroke:colC[k], strokeWidth:2, fill:"none"}));
    marks.push(Plot.dot(rows, {x:"x", y:"hi", symbol:sym("hbar"), r:5, stroke:colC[k], strokeWidth:2, fill:"none"}));
    rows.forEach(row=>{
      marks.push(Plot.dot([row], {x:"x", y:"v", symbol:sym(kinds[k]), r:cR[row.i], fill:colC[k], fillOpacity:0.92, stroke:colC[k], strokeWidth:1}));
    });
  });
  marks.push(Plot.ruleX(cXTicks, {x:d=>d, insetTop: innerH-7, stroke: axisCol}));
  marks.push(Plot.ruleX(cXTicks, {x:d=>d, insetBottom: innerH-7, stroke: axisCol}));
  marks.push(Plot.ruleY(cYTicks, {y:d=>d, insetRight: innerW-7, stroke: axisCol}));
  marks.push(Plot.ruleY(cYTicks, {y:d=>d, insetLeft: innerW-7, stroke: axisCol}));
  marks.push(Plot.frame({stroke: axisCol, strokeWidth:1}));
  marks.push(Plot.text(cXTicks, {x:d=>d, y:0.4, dy:25, text:d=>String(d), fontSize:24, fontFamily:FONT, fill:"#1a1a1a"}));
  marks.push(Plot.text(cYTicks, {x:6, y:d=>d, dx:-8, dy:1, textAnchor:"end", text:d=>d===1?"1":d.toFixed(1), fontSize:24, fontFamily:FONT, fill:"#1a1a1a"}));
  return Plot.plot({width:W, height:H, marginTop:MT, marginBottom:MB, marginLeft:ML, marginRight:MR,
    x:{domain:[6,20], axis:null}, y:{domain:[0.4,1.6], axis:null},
    style:{fontFamily:FONT, background:"transparent", overflow:"visible"}, marks});
}

const fig = document.getElementById("fig");
function place(svg, top){ const d=document.createElement("div"); d.className="pane"; d.style.top=top+"px"; d.appendChild(svg); fig.appendChild(d); }
place(pdfPanel([a167c,a136c,a100c,a075c,a050c,a027c,a014c],[a167,a136,a100,a075,a050,a027,a014], colA), 0);
place(pdfPanel([b167c,b136c,b100c,b075c,b050c,b027c,b014c],[b167,b136,b100,b075,b050,b027,b014], colB), 539);
place(ratioPanel(), 1078);

// ---------------- OVERLAY TEXT & LEGENDS ----------------
const ov = d3.select(fig).append("svg").attr("width",W).attr("height",1630)
  .style("position","absolute").style("left",0).style("top",0).style("font-family",FONT).style("pointer-events","none");

function rich(x, y, segs, o={}){
  const size = o.size||20;
  const t = ov.append("text").attr("x",x).attr("y",y).attr("font-size",size).attr("font-family",FONT).attr("text-anchor",o.anchor||"start").attr("fill","#1a1a1a");
  if(o.ls) t.attr("letter-spacing",o.ls);
  if(o.rotate) t.attr("transform",`rotate(${o.rotate},${x},${y})`);
  let shift = 0;
  for(const s of segs){
    const sp = t.append("tspan").text(s.t);
    if(s.it) sp.attr("font-style","italic");
    const target = s.sub ? size*0.28 : 0;
    if(target!==shift){ sp.attr("dy", target-shift); shift = target; }
    if(s.sub) sp.attr("font-size", size*0.68);
  }
  return t;
}
const I = t=>({t, it:true}), N = t=>({t}), S = t=>({t, it:true, sub:true});

// panel letters
rich(46, 74, [N("a")], {size:34});
rich(46, 603, [N("b")], {size:34});
rich(46, 1137, [N("c")], {size:34});
// d/eta annotations
rich(140, 95, [I("d/η"), N(" = 6.5")], {size:33, ls:2});
rich(140, 638, [I("d/η"), N(" = 18.7")], {size:33, ls:2});
// axis titles
rich(62, 254, [N("PDF")], {size:27, anchor:"middle", rotate:-90});
rich(62, 793, [N("PDF")], {size:27, anchor:"middle", rotate:-90});
rich(406, 531, [I("a"), S("i"), N("/"), I("σ"), N("("), I("a"), S("i"), N(")")], {size:27, anchor:"middle", ls:1});
rich(406, 1070, [I("a"), S("i"), N("/"), I("σ"), N("("), I("a"), S("i"), N(")")], {size:27, anchor:"middle", ls:1});
rich(406, 1606, [I("d/η")], {size:29, anchor:"middle", ls:2});
rich(72, 1332, [I("F"), N("("), I("a"), N(")/"), I("F"), N("(⟨"), I("D"), S("t"), I("u"), S("i"), N("⟩)")], {size:27, anchor:"middle", rotate:-90, ls:1});

// PDF legends
function symPath(kind, r){ return d3.symbol().type(sym(kind)).size(Math.PI*r*r)(); }
function pdfLegend(top, cols){
  const rows = [200,224,249,274,299,325,350];
  betaLabels.forEach((lab,k)=>{
    const y = top + rows[k];
    ov.append("path").attr("d", symPath(kinds[k], 4.4)).attr("transform",`translate(363,${y})`).attr("fill","none").attr("stroke",cols[k]).attr("stroke-width",1);
    rich(394, y+7, [I("β"), N("\u2002=\u2002"+lab)], {size:21});
  });
  const yt = top+375, yg = top+400;
  ov.append("line").attr("x1",338).attr("x2",389).attr("y1",yt).attr("y2",yt).attr("stroke","#3c434b").attr("stroke-width",2.8);
  rich(395, yt+7, [N("Tracer")], {size:22});
  ov.append("line").attr("x1",338).attr("x2",389).attr("y1",yg).attr("y2",yg).attr("stroke","#111").attr("stroke-width",1.1).attr("stroke-dasharray","7,5");
  rich(395, yg+7, [N("Gaussian")], {size:22});
}
pdfLegend(39, colA);
pdfLegend(578, colB);

// panel c legend
const cRows = [1144,1170,1196,1221];
cLabels.forEach((lab,k)=>{
  const col = k<4 ? 0 : 1, row = k<4 ? k : k-4;
  const x0 = col ? 503 : 360, x1 = col ? 553 : 408, xm = (x0+x1)/2, xt = col ? 559 : 414, y = cRows[row];
  const g = ov.append("g").attr("stroke", colC[k]).attr("stroke-width",2);
  g.append("line").attr("x1",x0).attr("x2",x1).attr("y1",y).attr("y2",y);
  g.append("line").attr("x1",xm).attr("x2",xm).attr("y1",y-9).attr("y2",y+9);
  g.append("line").attr("x1",xm-4).attr("x2",xm+4).attr("y1",y-9).attr("y2",y-9);
  g.append("line").attr("x1",xm-4).attr("x2",xm+4).attr("y1",y+9).attr("y2",y+9);
  ov.append("path").attr("d", symPath(kinds[k], 5.5)).attr("transform",`translate(${xm},${y})`).attr("fill",colC[k]).attr("stroke",colC[k]);
  rich(xt, y+7, [I("β"), N("\u2002=\u2002"+lab)], {size:22});
});
ov.append("line").attr("x1",503).attr("x2",553).attr("y1",1221).attr("y2",1221).attr("stroke","#8e99a4").attr("stroke-width",2.2).attr("stroke-dasharray","9,6");
rich(559, 1228, [N("3/"), I("F"), N("(⟨"), I("D"), S("t"), I("u"), S("i"), N("⟩)")], {size:22});
</script></body></html>
